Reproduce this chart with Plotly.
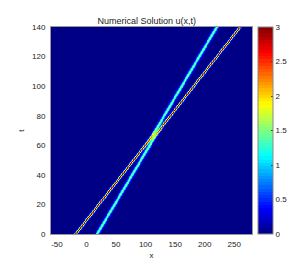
import numpy as np
import plotly.graph_objects as go

# --- values ---
x_range = [-60, 280]
t_range = [0, 140]
x_ticks = [-50, 0, 50, 100, 150, 200, 250]
x_tick_labels = ["-50", "0", "50", "100", "150", "200", "250"]
t_ticks = [0, 20, 40, 60, 80, 100, 120, 140]
cbar_ticks = [0, 0.5, 1, 1.5, 2, 2.5, 3]

# two solitary waves: tall (red) one and small (cyan) one
soliton_start_x = [-19.0, 17.4]     # centre at t = 0
soliton_speed = [1.961, 1.482]      # asymptotic speeds
background_speed = 1.0
peak_amplitude = 3.0                # amplitude of tall wave
width_scale = 1.6                   # visual width of the waves

# --- build the field (two-soliton KdV profile from the parameters above) ---
x = np.linspace(x_range[0], x_range[1], 421)
t = np.linspace(t_range[0], t_range[1], 281)
X, T = np.meshgrid(x, t)
b = 1.0 / width_scale
k1 = np.sqrt(soliton_speed[0] - background_speed) / b
k2 = np.sqrt(soliton_speed[1] - background_speed) / b
a = 2 * peak_amplitude / k1**2
A12 = ((k1 - k2) / (k1 + k2)) ** 2
Xs = b * (X - background_speed * T)
Ts = b**3 * T
eta10 = -k1 * b * soliton_start_x[0]
eta20 = -np.log(A12) - k2 * b * soliton_start_x[1]
e1 = k1 * Xs - k1**3 * Ts + eta10
e2 = k2 * Xs - k2**3 * Ts + eta20
thetas = np.stack([np.zeros_like(e1), e1, e2, e1 + e2 + np.log(A12)])
kap = np.array([0.0, k1, k2, k1 + k2])[:, None, None]
m = thetas.max(axis=0)
w = np.exp(thetas - m)
w /= w.sum(axis=0)
mean = (w * kap).sum(axis=0)
var = (w * kap**2).sum(axis=0) - mean**2
U = a * 2 * var  # a * u with u = 2 d^2/dX^2 ln F

# MATLAB jet(64)
def jet(v):
    r = np.clip(1.5 - np.abs(4 * v - 3), 0, 1)
    g = np.clip(1.5 - np.abs(4 * v - 2), 0, 1)
    bb = np.clip(1.5 - np.abs(4 * v - 1), 0, 1)
    return r, g, bb

n = 64
cs = []
for i in range(n):
    v = (i + 0.5) / n
    r, g, bl = jet(v)
    col = f"rgb({int(round(r*255))},{int(round(g*255))},{int(round(bl*255))})"
    cs.append([i / n, col])
    cs.append([(i + 1) / n, col])
cs[0][0] = 0.0
cs[-1][0] = 1.0

font = dict(family="Liberation Sans, Arial, sans-serif", size=8, color="#222")

fig = go.Figure(go.Heatmap(
    x=x, y=t, z=U, zmin=0, zmax=3, colorscale=cs, zsmooth="best",
    colorbar=dict(
        x=1.0316, xanchor="left", xpad=0, y=0.5, yanchor="middle",
        len=1, lenmode="fraction", thickness=15, thicknessmode="pixels",
        ypad=0, outlinewidth=1, outlinecolor="#888",
        tickvals=cbar_ticks, ticktext=[f"{v:g}" for v in cbar_ticks],
        ticks="inside", ticklen=2, tickcolor="#444",
        tickfont=font,
    ),
))

fig.update_layout(
    width=305, height=262,
    margin=dict(l=35, r=61, t=19, b=29),
    paper_bgcolor="white", plot_bgcolor="white",
    font=font,
    title=dict(text="Numerical Solution u(x,t)", x=0.455, xanchor="center",
               y=1 - 13 / 262, yanchor="middle",
               font=dict(family="Liberation Sans, Arial, sans-serif", size=9, color="#222")),
    xaxis=dict(range=x_range, tickvals=x_ticks, ticktext=x_tick_labels, ticks="",
               showgrid=False, zeroline=False, showline=True, linecolor="#999", mirror=True,
               title=dict(text="x", standoff=4, font=font), tickfont=font,
               ticklabelstandoff=2),
    yaxis=dict(range=t_range, tickvals=t_ticks, ticks="", showgrid=False,
               zeroline=False, showline=True, linecolor="#999", mirror=True,
               title=dict(text="t", standoff=6, font=font), tickfont=font,
               ticklabelstandoff=3),
)

fig.write_html("out.html")
